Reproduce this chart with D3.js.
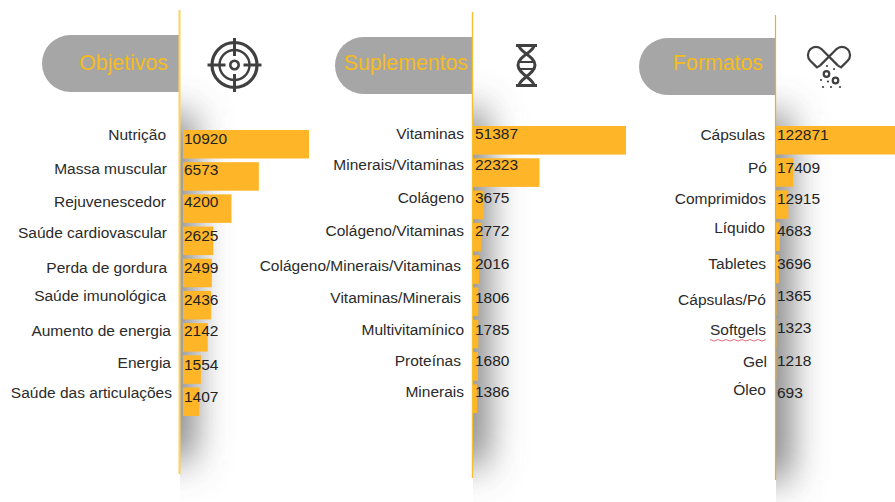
<!DOCTYPE html>
<html><head><meta charset="utf-8">
<script src="https://cdn.jsdelivr.net/npm/d3@7/dist/d3.min.js"></script>
<style>html,body{margin:0;padding:0;background:#fff;overflow:hidden}svg{display:block}text{font-family:"Liberation Sans",Arial,sans-serif}</style>
</head><body><svg id="c" width="895" height="502"></svg>
<script>
const titles = ["Objetivos", "Suplementos", "Formatos"];
const objetivosCats = ["Nutrição","Massa muscular","Rejuvenescedor","Saúde cardiovascular","Perda de gordura","Saúde imunológica","Aumento de energia","Energia","Saúde das articulações"];
const objetivosVals = [10920,6573,4200,2625,2499,2436,2142,1554,1407];
const suplementosCats = ["Vitaminas","Minerais/Vitaminas","Colágeno","Colágeno/Vitaminas","Colágeno/Minerais/Vitaminas","Vitaminas/Minerais","Multivitamínico","Proteínas","Minerais"];
const suplementosVals = [51387,22323,3675,2772,2016,1806,1785,1680,1386];
const formatosCats = ["Cápsulas","Pó","Comprimidos","Líquido","Tabletes","Cápsulas/Pó","Softgels","Gel","Óleo"];
const formatosVals = [122871,17409,12915,4683,3696,1365,1323,1218,693];

// layout (separate from the data)
const panels = [
 {cats:objetivosCats, vals:objetivosVals, axisX:179, barX:183, maxW:126, top:130, bottom:416,
  lineTop:10, lineBottom:474, lineCol:"#ffd25f", lineW:2, pill:[42,35,138,57], titleEnd:168,
  labR:[166,167,166,167,167,166,171,171,172], labY:[135,169,202,233,268,296,331,363,393],
  valX:184, valY:[139,170,202,236,268,300,331,365,397], shadow:[115,460]},
 {cats:suplementosCats, vals:suplementosVals, axisX:472, barX:473, maxW:153, top:126, bottom:413,
  lineTop:12, lineBottom:478, lineCol:"#f5c02e", lineW:1.4, pill:[335,37,137,57], titleEnd:468,
  labR:[464,464,464,464,461,461,464,461,464], labY:[134,165,198,231,266,298,330,361,392],
  valX:475, valY:[134,165,198,231,264,298,330,361,392], shadow:[112,465]},
 {cats:formatosCats, vals:formatosVals, axisX:775, barX:775, maxW:127, top:126, bottom:412,
  lineTop:15, lineBottom:480, lineCol:"#eeb020", lineW:1.2, pill:[639,38,136,57], titleEnd:763,
  labR:[765,767,766,765,766,766,766,767,766], labY:[135,168,199,228,264,300,330,362,390],
  valX:777, valY:[135,168,199,231,264,296,328,361,393], shadow:[115,480]}
];

const svg = d3.select("#c");
const defs = svg.append("defs");
defs.append("filter").attr("id","blur").attr("x","-300%").attr("y","-30%").attr("width","700%").attr("height","160%")
  .append("feGaussianBlur").attr("stdDeviation",19);

panels.forEach((p,i)=>{
  defs.append("clipPath").attr("id","sc"+i).append("rect")
    .attr("x",p.axisX+1).attr("y",0).attr("width",120).attr("height",502);
  const g = svg.append("g");
  // shadow
  g.append("g").attr("clip-path",`url(#sc${i})`).append("rect")
    .attr("x",p.axisX-24).attr("y",p.shadow[0]).attr("width",36).attr("height",p.shadow[1]-p.shadow[0])
    .attr("fill","#666").attr("filter","url(#blur)");
  // header pill
  const [px,py,pw,ph]=p.pill, r=ph/2;
  g.append("path").attr("fill","#a6a6a6")
    .attr("d",`M${px+pw},${py}H${px+r}A${r},${r} 0 0 0 ${px+r},${py+ph}H${px+pw}Z`);
  g.append("text").attr("x",p.titleEnd).attr("y",69.5).attr("text-anchor","end")
    .attr("font-size",21.3).attr("fill","#f5bc1c").text(titles[i]);
  // scales and bars
  const x = d3.scaleLinear().domain([0,d3.max(p.vals)]).range([0,p.maxW]);
  const y = d3.scaleBand().domain(p.cats).range([p.top,p.bottom]).paddingInner(0.115);
  g.selectAll("rect.bar").data(p.vals).join("rect").attr("class","bar")
    .attr("x",p.barX).attr("y",(d,j)=>y(p.cats[j])).attr("width",d=>x(d)).attr("height",y.bandwidth())
    .attr("fill","#ffb528");
  // axis line
  g.append("line").attr("x1",p.axisX+.5).attr("x2",p.axisX+.5).attr("y1",p.lineTop).attr("y2",p.lineBottom)
    .attr("stroke",p.lineCol).attr("stroke-width",p.lineW);
  // labels
  g.selectAll("text.lab").data(p.cats).join("text").attr("class","lab")
    .attr("x",(d,j)=>p.labR[j]).attr("y",(d,j)=>p.labY[j]).attr("dy","0.35em")
    .attr("text-anchor","end").attr("font-size",15.5).attr("fill","#2b2b2b").text(d=>d);
  g.selectAll("text.val").data(p.vals).join("text").attr("class","val")
    .attr("x",p.valX).attr("y",(d,j)=>p.valY[j]).attr("dy","0.35em")
    .attr("font-size",15.5).attr("fill","#222").text(d=>d);
});

// spell-check squiggle under "Softgels"
const sq = d3.range(0,15).map(k=>[710+k*4, 339.5+(k%2)*1.6]);
svg.append("path").attr("d",d3.line()(sq)).attr("fill","none").attr("stroke","#e0606a").attr("stroke-width",.9);

// icons
const ic="#404040";
const t = svg.append("g").attr("transform","translate(234.5,65)").attr("fill","none").attr("stroke",ic);
t.append("circle").attr("r",22.5).attr("stroke-width",3.2);
t.append("circle").attr("r",15).attr("stroke-width",2.4);
t.append("circle").attr("r",4.2).attr("stroke-width",2.6);
[[-27,0,-9,0],[9,0,27,0],[0,-27,0,-9],[0,9,0,27]].forEach(s=>
  t.append("line").attr("x1",s[0]).attr("y1",s[1]).attr("x2",s[2]).attr("y2",s[3]).attr("stroke-width",3));

const dna = svg.append("g").attr("fill","none").attr("stroke",ic).attr("stroke-width",3);
dna.append("path").attr("d","M516,45.5H537M516,85.5H537M519,45.5C519,52 535,56 535,65C535,74 519,79 519,85.5M534,45.5C534,52 518,56 518,65C518,74 534,79 534,85.5");
dna.append("path").attr("stroke-width",2).attr("d","M519,62H534M519,69H534");

const pil = svg.append("g").attr("fill","none").attr("stroke",ic).attr("stroke-width",2.2).attr("stroke-linejoin","round");
pil.append("path").attr("d","M838,65.6L821.7,49.3A8,8 0 0 0 810.3,60.7L817,67.4L820,65.6");
pil.append("path").attr("d","M820,65.6L836.3,49.3A8,8 0 0 1 847.7,60.7L841,67.4L838,65.6");
pil.append("circle").attr("cx",826.5).attr("cy",74).attr("r",2.8);
pil.append("circle").attr("cx",835.5).attr("cy",80.5).attr("r",2.8);
[[827,66],[834,69],[821,80],[828,81.5],[823,87],[831,87],[840,87]].forEach(d=>
  svg.append("circle").attr("cx",d[0]).attr("cy",d[1]).attr("r",1.1).attr("fill",ic));
</script></body></html>
